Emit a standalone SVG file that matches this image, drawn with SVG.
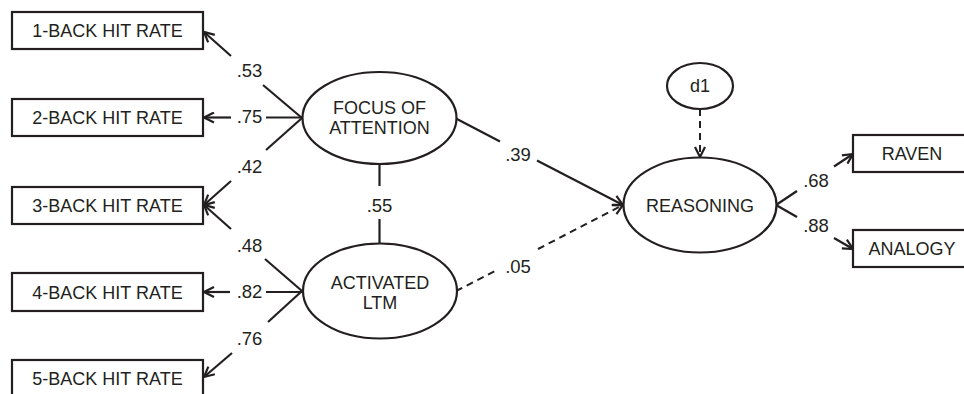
<svg xmlns="http://www.w3.org/2000/svg" width="964" height="394" viewBox="0 0 964 394">
<style>
.box{fill:#fff;stroke:#231f20;stroke-width:2.2}
.ell{fill:#fff;stroke:#231f20;stroke-width:2.2}
.t{font-family:"Liberation Sans",Arial,sans-serif;font-size:18px;fill:#231f20;text-anchor:middle}
.n{font-family:"Liberation Sans",Arial,sans-serif;font-size:18.5px;fill:#231f20;text-anchor:middle}
.c{fill:none;stroke:#231f20;stroke-width:2.2}
.d{fill:none;stroke:#231f20;stroke-width:2;stroke-dasharray:7 5}
.a{marker-end:url(#ah)}
</style>
<defs>
<marker id="ah" viewBox="0 0 12 12" refX="11" refY="6" markerWidth="12" markerHeight="12" markerUnits="userSpaceOnUse" orient="auto">
<path d="M1,1 L11,6 L1,11" fill="none" stroke="#231f20" stroke-width="2.2"/>
</marker>
</defs>
<rect width="964" height="394" fill="#fff"/>
<g id="connectors">
<path class="c" d="M302,118 L263,85"/><path class="c a" d="M231,56 L204,32"/>
<path class="c" d="M302,117.5 L266,117.5"/><path class="c a" d="M231,117.5 L204,117.5"/>
<path class="c" d="M302,118 L266,150"/><path class="c a" d="M231,181 L204,205"/>
<path class="c" d="M302,291 L265,259"/><path class="c a" d="M231,229 L204,205"/>
<path class="c" d="M302,292 L266,292"/><path class="c a" d="M230,292 L204,292"/>
<path class="c" d="M302,291 L268,322"/><path class="c a" d="M232,353 L204,377"/>
<path class="c" d="M379.5,164 L379.5,186"/><path class="c" d="M379.5,219 L379.5,244"/>
<path class="c" d="M455,118 L500,141.5"/><path class="c a" d="M537,160.5 L623,205"/>
<path class="d" d="M456,291 L498,269.5"/><path class="d a" d="M538,249 L623,205"/>
<path class="d a" d="M700,109 L700,157"/>
<path class="c" d="M776,205 L797,191"/><path class="c a" d="M834,166.5 L853,154"/>
<path class="c" d="M776,205 L797,217"/><path class="c a" d="M834,238 L853,249"/>
<text class="n" x="249.5" y="77">.53</text>
<text class="n" x="249.5" y="123">.75</text>
<text class="n" x="249.5" y="173">.42</text>
<text class="n" x="249.5" y="252">.48</text>
<text class="n" x="249.5" y="298">.82</text>
<text class="n" x="249.5" y="345">.76</text>
<text class="n" x="379.5" y="212">.55</text>
<text class="n" x="518" y="161">.39</text>
<text class="n" x="518" y="273">.05</text>
<text class="n" x="816" y="187">.68</text>
<text class="n" x="816" y="232">.88</text>
</g>
<g id="b1"><rect class="box" x="12" y="12" width="191" height="37"/><text class="t" x="107.5" y="37">1-BACK HIT RATE</text></g>
<g id="b2"><rect class="box" x="12" y="99" width="191" height="37"/><text class="t" x="107.5" y="124">2-BACK HIT RATE</text></g>
<g id="b3"><rect class="box" x="12" y="187" width="191" height="37"/><text class="t" x="107.5" y="212">3-BACK HIT RATE</text></g>
<g id="b4"><rect class="box" x="12" y="273" width="191" height="38"/><text class="t" x="107.5" y="298.5">4-BACK HIT RATE</text></g>
<g id="b5"><rect class="box" x="12" y="360" width="191" height="37"/><text class="t" x="107.5" y="385">5-BACK HIT RATE</text></g>
<g id="focus"><ellipse class="ell" cx="379.5" cy="118" rx="77" ry="46"/><text class="t" x="379.5" y="114">FOCUS OF</text><text class="t" x="379.5" y="134">ATTENTION</text></g>
<g id="ltm"><ellipse class="ell" cx="380" cy="291" rx="77" ry="47.5"/><text class="t" x="380" y="289">ACTIVATED</text><text class="t" x="380" y="309">LTM</text></g>
<g id="reasoning"><ellipse class="ell" cx="700" cy="205" rx="76.5" ry="47.5"/><text class="t" x="700" y="211.5">REASONING</text></g>
<g id="d1"><ellipse class="ell" cx="700" cy="86" rx="33" ry="23"/><text class="t" x="700" y="92">d1</text></g>
<g id="raven"><rect class="box" x="853" y="135" width="120" height="37"/><text class="t" x="912" y="160">RAVEN</text></g>
<g id="analogy"><rect class="box" x="853" y="230" width="120" height="37"/><text class="t" x="912" y="255">ANALOGY</text></g>
</svg>
